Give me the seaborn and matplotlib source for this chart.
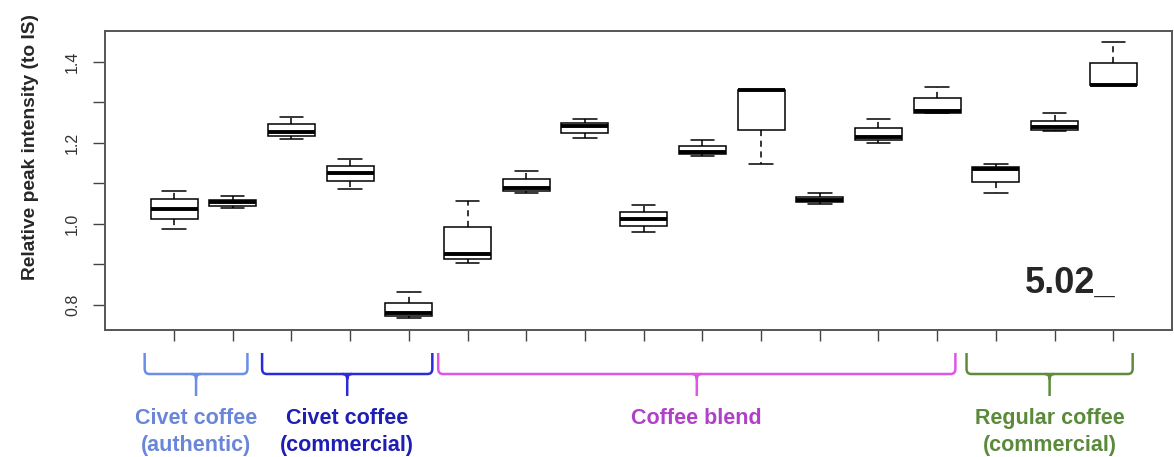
import numpy as np
import pandas as pd
import matplotlib
matplotlib.use("Agg")
import matplotlib.pyplot as plt
import matplotlib.transforms as mtransforms
from matplotlib.path import Path
from matplotlib.patches import PathPatch
import seaborn as sns

# ----------------------------------------------------------------------
# Data: five-number summaries (17 samples)
# ----------------------------------------------------------------------
samples = [f"S{i}" for i in range(1, 18)]
lower = [0.987, 1.039, 1.209, 1.087, 0.768, 0.903, 1.076, 1.211, 0.980,
         1.168, 1.147, 1.049, 1.200, 1.274, 1.077, 1.229, 1.342]
q1 = [1.012, 1.044, 1.217, 1.106, 0.773, 0.914, 1.081, 1.225, 0.996,
      1.172, 1.232, 1.055, 1.207, 1.275, 1.104, 1.232, 1.342]
median = [1.036, 1.053, 1.227, 1.126, 0.780, 0.926, 1.088, 1.241, 1.012,
          1.178, 1.331, 1.059, 1.215, 1.279, 1.135, 1.240, 1.344]
q3 = [1.062, 1.059, 1.246, 1.143, 0.805, 0.992, 1.111, 1.250, 1.029,
      1.193, 1.331, 1.067, 1.236, 1.311, 1.141, 1.254, 1.397]
upper = [1.082, 1.069, 1.265, 1.161, 0.831, 1.057, 1.131, 1.260, 1.047,
         1.207, 1.331, 1.076, 1.258, 1.339, 1.149, 1.274, 1.449]

group_names = ["Civet coffee\n(authentic)", "Civet coffee\n(commercial)",
               "Coffee blend", "Regular coffee\n(commercial)"]
group_first = [0, 2, 5, 14]
group_last = [1, 4, 13, 16]
bracket_colors = ["#6b8ee6", "#2b2bd9", "#e055e6", "#5e8c3a"]
text_colors = ["#6a86d8", "#1e1eb4", "#b040c8", "#5a8a3a"]

ytick_vals = [0.8, 0.9, 1.0, 1.1, 1.2, 1.3, 1.4]
ytick_labels = ["0.8", "", "1.0", "", "1.2", "", "1.4"]
annot = "5.02_"

# long table: each sample gets its five summary values
rows = []
for s, a, b, c, d, e in zip(samples, lower, q1, median, q3, upper):
    for v in (a, b, c, d, e):
        rows.append({"sample": s, "value": v})
df = pd.DataFrame(rows)

# ----------------------------------------------------------------------
# Plot
# ----------------------------------------------------------------------
sns.set_theme(style="ticks")
plt.rcParams["font.family"] = ["Liberation Sans", "DejaVu Sans"]

W, H = 1174, 457
fig = plt.figure(figsize=(W / 100, H / 100), dpi=100)
ax = fig.add_axes([105 / W, 1 - 330 / H, (1172 - 105) / W, (330 - 31) / H])

sns.boxplot(data=df, x="sample", y="value", order=samples, ax=ax,
            color="white", linecolor="black", linewidth=1.1, width=0.8,
            whis=(0, 100), saturation=1,
            medianprops=dict(linewidth=2.8, color="black"),
            whiskerprops=dict(linestyle=(0, (4, 3))))

ax.set_xlim(-1.176, 17.0)
ax.set_ylim(0.738, 1.4765)
ax.set_xlabel("")
ax.set_ylabel("Relative peak intensity (to IS)", fontsize=13.8,
              fontweight="bold")
ax.yaxis.set_label_coords(-0.062, 0.612)
ax.set_xticks(range(len(samples)))
ax.set_xticklabels([])
ax.tick_params(axis="x", length=8, width=1, color="#444444")
ax.set_yticks(ytick_vals)
ax.set_yticklabels(ytick_labels, rotation=90, va="center", fontsize=11.5,
                   color="#333333")
ax.tick_params(axis="y", length=9, width=1, color="#444444", pad=9)
for sp in ax.spines.values():
    sp.set_visible(True)
    sp.set_color("#555555")
    sp.set_linewidth(1.4)

ax.text(14.5, 0.83, annot, fontsize=26, fontweight="bold", ha="left",
        va="baseline")

# ----------------------------------------------------------------------
# Group brackets below the axis (x in data units, y in figure fraction)
# ----------------------------------------------------------------------
trans = mtransforms.blended_transform_factory(ax.transData, fig.transFigure)


def fy(py):
    return 1 - py / H


y_top, y_h, y_bot = fy(353), fy(374), fy(396)
r = 0.08
ry = (y_top - y_h) * 0.25
right_pad = [0.25, 0.4, 0.31, 0.33]
for i in range(len(group_names)):
    x0 = group_first[i] - 0.5
    x1 = group_last[i] + right_pad[i]
    xc = (x0 + x1) / 2
    verts = [(x0, y_top), (x0, y_h + ry), (x0, y_h), (x0 + r, y_h),
             (x1 - r, y_h), (x1, y_h), (x1, y_h + ry), (x1, y_top)]
    codes = [Path.MOVETO, Path.LINETO, Path.CURVE3, Path.CURVE3,
             Path.LINETO, Path.CURVE3, Path.CURVE3, Path.LINETO]
    ax.add_patch(PathPatch(Path(verts, codes), transform=trans, fill=False,
                           edgecolor=bracket_colors[i], linewidth=1.8,
                           clip_on=False))
    stem = [(xc - r, y_h), (xc, y_h), (xc, y_h - ry), (xc, y_bot),
            (xc + r, y_h), (xc, y_h), (xc, y_h - ry)]
    scodes = [Path.MOVETO, Path.CURVE3, Path.CURVE3, Path.LINETO,
              Path.MOVETO, Path.CURVE3, Path.CURVE3]
    ax.add_patch(PathPatch(Path(stem, scodes), transform=trans, fill=False,
                           edgecolor=bracket_colors[i], linewidth=1.8,
                           clip_on=False))
    ax.text(xc, fy(408), group_names[i], transform=trans, ha="center",
            va="top", fontsize=15.5, fontweight="bold", color=text_colors[i],
            linespacing=1.35, clip_on=False)

fig.savefig("out.png", dpi=100)
